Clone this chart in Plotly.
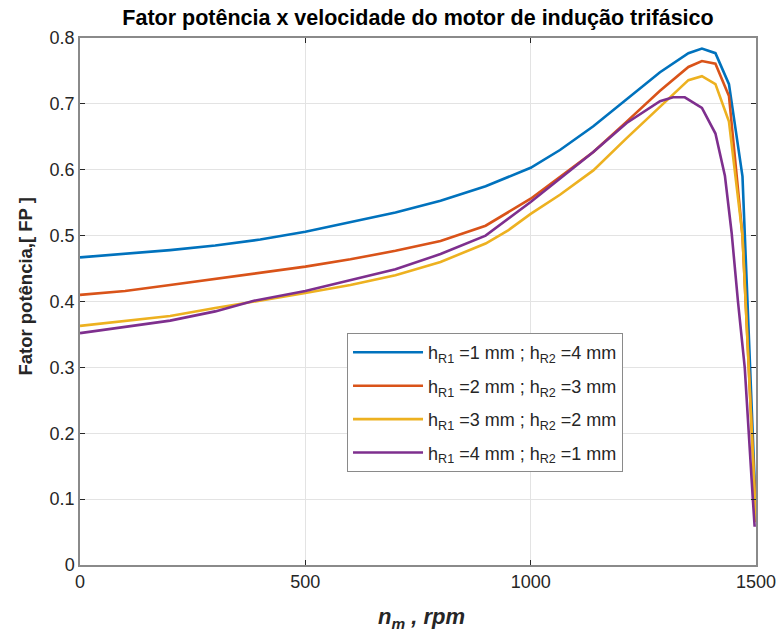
import plotly.graph_objects as go

# rpm / power factor per series
rpm_1 = [0, 100, 200, 300, 400, 500, 600, 700, 800, 900, 1000, 1065, 1139, 1213, 1287, 1350, 1380, 1410, 1440, 1470, 1500]
fp_1 = [0.467, 0.472, 0.478, 0.485, 0.494, 0.506, 0.520, 0.535, 0.553, 0.575, 0.603, 0.630, 0.666, 0.707, 0.748, 0.777, 0.784, 0.777, 0.730, 0.590, 0.075]

rpm_2 = [0, 100, 200, 300, 400, 500, 600, 700, 800, 900, 1000, 1065, 1139, 1213, 1287, 1350, 1380, 1410, 1440, 1470, 1500]
fp_2 = [0.410, 0.416, 0.425, 0.434, 0.443, 0.453, 0.464, 0.477, 0.492, 0.515, 0.556, 0.589, 0.627, 0.673, 0.720, 0.756, 0.765, 0.761, 0.712, 0.500, 0.070]

rpm_3 = [0, 100, 200, 300, 400, 500, 600, 700, 800, 900, 950, 1000, 1065, 1139, 1213, 1287, 1350, 1380, 1410, 1440, 1470, 1500]
fp_3 = [0.363, 0.370, 0.378, 0.390, 0.401, 0.413, 0.425, 0.440, 0.460, 0.488, 0.508, 0.533, 0.562, 0.599, 0.648, 0.696, 0.736, 0.742, 0.730, 0.673, 0.500, 0.065]

rpm_4 = [0, 100, 200, 300, 386, 500, 600, 700, 800, 900, 1000, 1065, 1139, 1213, 1287, 1316, 1342, 1380, 1410, 1431, 1446, 1460, 1475, 1493, 1497]
fp_4 = [0.352, 0.361, 0.371, 0.385, 0.401, 0.416, 0.432, 0.449, 0.472, 0.500, 0.551, 0.586, 0.627, 0.671, 0.704, 0.710, 0.710, 0.694, 0.655, 0.591, 0.504, 0.400, 0.300, 0.100, 0.058]

names = [
    "h<sub>R1</sub> =1 mm ; h<sub>R2</sub> =4 mm",
    "h<sub>R1</sub> =2 mm ; h<sub>R2</sub> =3 mm",
    "h<sub>R1</sub> =3 mm ; h<sub>R2</sub> =2 mm",
    "h<sub>R1</sub> =4 mm ; h<sub>R2</sub> =1 mm",
]
colors = ["#0072BD", "#D95319", "#EDB120", "#7E2F8E"]
series = [(rpm_1, fp_1), (rpm_2, fp_2), (rpm_3, fp_3), (rpm_4, fp_4)]

x_ticks = [0, 500, 1000, 1500]
y_ticks = [0, 0.1, 0.2, 0.3, 0.4, 0.5, 0.6, 0.7, 0.8]
y_ticktext = ["0", "0.1", "0.2", "0.3", "0.4", "0.5", "0.6", "0.7", "0.8"]

fig = go.Figure()
for i, ((xs, ys), n, c) in enumerate(zip(series, names, colors)):
    fig.add_trace(go.Scatter(x=xs, y=ys, mode="lines", name=n, legendgroup=f"g{i}",
                             line=dict(color=c, width=2.6)))

font_family = "Liberation Sans, Arial, sans-serif"
fig.update_layout(
    width=779, height=639,
    margin=dict(l=80, r=23, t=38, b=74, autoexpand=False),
    paper_bgcolor="white", plot_bgcolor="white",
    font=dict(family=font_family, color="#262626", size=17),
    title=dict(text="<b>Fator potência x velocidade do motor de indução trifásico</b>",
               x=0.5, xref="paper", xanchor="center", y=0.972, yref="container",
               yanchor="middle", font=dict(size=21.5, color="black")),
    xaxis=dict(range=[0, 1500], tickvals=x_ticks, ticktext=[str(v) for v in x_ticks],
               showgrid=True, gridcolor="#e3e3e3", gridwidth=1, automargin=False,
               showline=True, linecolor="#8a8a8a", linewidth=1.5, mirror="ticks",
               ticks="inside", ticklen=5, tickcolor="#262626", zeroline=False,
               tickfont=dict(size=18, color="#262626")),
    yaxis=dict(range=[0, 0.8], tickvals=y_ticks, ticktext=y_ticktext,
               showgrid=True, gridcolor="#e3e3e3", gridwidth=1, automargin=False,
               showline=True, linecolor="#8a8a8a", linewidth=1.5, mirror="ticks",
               ticks="inside", ticklen=5, tickcolor="#262626", zeroline=False,
               tickfont=dict(size=18, color="#262626")),
    legend=dict(x=0.395, y=0.44, xanchor="left", yanchor="top",
                bgcolor="white", bordercolor="#8a8a8a", borderwidth=1,
                font=dict(size=18, color="#262626"), itemwidth=70,
                tracegroupgap=7),
    showlegend=True,
    annotations=[
        dict(text="<b>Fator potência,[ FP ]</b>", textangle=-90, xref="paper", yref="paper",
             x=-0.08, y=0.53, xanchor="center", yanchor="middle", showarrow=False,
             font=dict(size=18.5, color="#262626")),
        dict(text="<b><i>n<sub>m</sub> , rpm</i></b>", xref="paper", yref="paper",
             x=0.505, y=-0.1, xanchor="center", yanchor="middle", showarrow=False,
             font=dict(size=22, color="#262626")),
    ],
)

fig.write_html("out.html")
